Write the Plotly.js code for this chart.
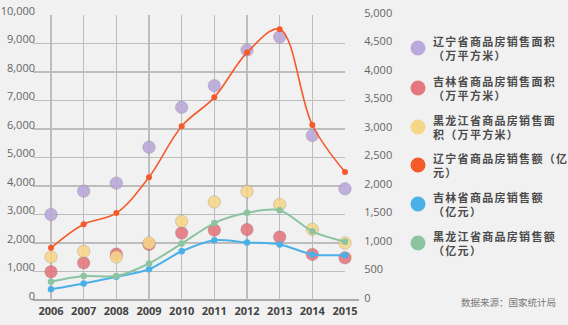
<!DOCTYPE html>
<html>
<head>
<meta charset="utf-8">
<script src="https://cdn.plot.ly/plotly-3.0.1.min.js"></script>
<style>
html,body{margin:0;padding:0;background:#f1f1f1;}
#chart{width:568px;height:325px;}
</style>
</head>
<body>
<div id="chart"></div>
<script>
// Data
var years = [2006, 2007, 2008, 2009, 2010, 2011, 2012, 2013, 2014, 2015];
var liaoningArea = [3000, 3820, 4100, 5360, 6760, 7520, 8770, 9230, 5770, 3900];
var jilinArea = [990, 1300, 1610, 1950, 2350, 2450, 2470, 2210, 1600, 1480];
var heilongjiangArea = [1510, 1710, 1510, 2000, 2760, 3440, 3810, 3350, 2480, 2000];
var liaoningSales = [915, 1330, 1525, 2155, 3050, 3555, 4340, 4750, 3070, 2245];
var jilinSales = [187, 290, 407, 540, 855, 1050, 1010, 975, 800, 787];
var heilongjiangSales = [320, 420, 420, 640, 990, 1350, 1530, 1575, 1205, 1020];
var leftTicks = [0, 1000, 2000, 3000, 4000, 5000, 6000, 7000, 8000, 9000, 10000];
var rightTicks = [0, 500, 1000, 1500, 2000, 2500, 3000, 3500, 4000, 4500, 5000];
var legendNames = [
  ["辽宁省商品房销售面积", "（万平方米）"],
  ["吉林省商品房销售面积", "（万平方米）"],
  ["黑龙江省商品房销售面", "积（万平方米）"],
  ["辽宁省商品房销售额（亿", "元）"],
  ["吉林省商品房销售额", "（亿元）"],
  ["黑龙江省商品房销售额", "（亿元）"]
];
var colors = ["#b9a8d9", "#e4767d", "#f6d689", "#f55a2b", "#4bb0e8", "#8cc4a1"];
var sourceText = "数据来源：国家统计局";

function fmt(v){ return v.toLocaleString('en-US'); }

var bigMarker = function(c){ return {size: 12.5, color: c, opacity: 0.88, line: {width: 0.6, color: 'rgba(90,70,70,0.35)'}}; };

var traces = [
  {x: years, y: liaoningArea, type: 'scatter', mode: 'markers', marker: bigMarker(colors[0]), cliponaxis: false, yaxis: 'y'},
  {x: years, y: jilinArea, type: 'scatter', mode: 'markers', marker: bigMarker(colors[1]), cliponaxis: false, yaxis: 'y'},
  {x: years, y: heilongjiangArea, type: 'scatter', mode: 'markers', marker: bigMarker(colors[2]), cliponaxis: false, yaxis: 'y'},
  {x: years, y: liaoningSales, type: 'scatter', mode: 'lines+markers', line: {shape: 'spline', color: colors[3], width: 1.6, smoothing: 1}, marker: {size: 6, color: colors[3]}, cliponaxis: false, yaxis: 'y2'},
  {x: years, y: jilinSales, type: 'scatter', mode: 'lines+markers', line: {shape: 'spline', color: colors[4], width: 2, smoothing: 0.8}, marker: {size: 6.5, color: colors[4]}, cliponaxis: false, yaxis: 'y2'},
  {x: years, y: heilongjiangSales, type: 'scatter', mode: 'lines+markers', line: {shape: 'spline', color: colors[5], width: 2, smoothing: 0.8}, marker: {size: 6.5, color: colors[5]}, cliponaxis: false, yaxis: 'y2'}
];

// pixel helpers for paper coords (plot area 33..345 x, 15..300 y)
var L = 33, R = 345, T = 15, B = 300;
function px(x){ return (x - L) / (R - L); }
function py(y){ return (B - y) / (B - T); }

var shapes = [
  {type: 'line', xref: 'paper', yref: 'y', x0: 0, x1: 1, y0: 8000, y1: 8000, line: {color: '#9a9a9a', width: 2}, layer: 'below'},
  {type: 'line', xref: 'paper', yref: 'paper', x0: 0, x1: px(359), y0: 0, y1: 0, line: {color: '#aaaaaa', width: 2}, layer: 'below'}
];
var annotations = [];
var legendY = [48, 88, 127, 165, 204, 243];
for (var i = 0; i < 6; i++) {
  shapes.push({type: 'circle', xref: 'paper', yref: 'paper', xsizemode: 'pixel', ysizemode: 'pixel',
    xanchor: px(418), yanchor: py(legendY[i]), x0: -7.5, x1: 7.5, y0: -7.5, y1: 7.5,
    fillcolor: colors[i], line: {width: 0}});
  annotations.push({xref: 'paper', yref: 'paper', x: px(431), y: py(legendY[i]), xanchor: 'left', yanchor: 'middle', align: 'left',
    text: legendNames[i][0] + '<br>' + legendNames[i][1], showarrow: false,
    font: {family: 'Noto Sans CJK SC', size: 11, color: '#4a4a4a', weight: 'bold'}});
}
annotations.push({xref: 'paper', yref: 'paper', x: px(558), y: py(302), xanchor: 'right', yanchor: 'middle',
  text: sourceText, showarrow: false, font: {family: 'Noto Sans CJK SC', size: 9.5, color: '#777'}});

var layout = {
  width: 568, height: 325,
  margin: {l: L, r: 568 - R, t: T, b: 325 - B, pad: 0},
  paper_bgcolor: '#f1f1f1', plot_bgcolor: '#f1f1f1',
  showlegend: false,
  xaxis: {range: [2005.449, 2015], tickvals: years, ticktext: years.map(String), showgrid: true, gridcolor: '#bdbdbd', gridwidth: 1.5,
    zeroline: false, showline: false, ticks: 'outside', ticklen: 1, tickcolor: 'rgba(0,0,0,0)',
    tickfont: {family: 'Open Sans', size: 11, color: '#444', weight: 'bold'}, fixedrange: true},
  yaxis: {range: [0, 10000], tickvals: leftTicks, ticktext: leftTicks.map(fmt), showgrid: true, gridcolor: '#bdbdbd', gridwidth: 1.5,
    zeroline: false, showline: false, ticks: '', ticklabelstandoff: -3, ticklabelshift: -4,
    tickfont: {family: 'Open Sans', size: 11, color: '#666'}},
  yaxis2: {range: [0, 5000], overlaying: 'y', side: 'right', tickvals: rightTicks, ticktext: rightTicks.map(fmt), showgrid: false,
    zeroline: false, showline: false, ticks: 'outside', ticklen: 16, tickcolor: 'rgba(0,0,0,0)', ticklabelshift: -2,
    tickfont: {family: 'Open Sans', size: 11, color: '#666'}},
  shapes: shapes,
  annotations: annotations
};

Plotly.newPlot('chart', traces, layout, {displayModeBar: false, staticPlot: true}).then(function(gd){
  var texts = gd.querySelectorAll('.annotation-text');
  for (var k = 0; k < texts.length - 1; k++) {
    texts[k].style.letterSpacing = '1.3px';
  }
});
</script>
</body>
</html>
